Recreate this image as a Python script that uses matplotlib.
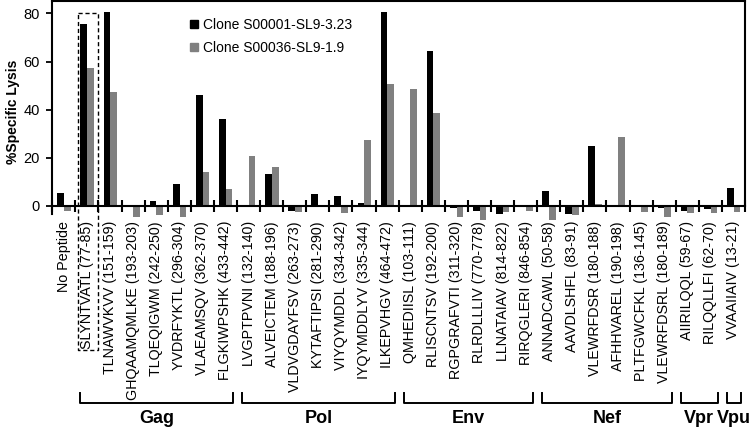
import matplotlib
matplotlib.use("Agg")
from matplotlib import pyplot as plt
from matplotlib import transforms
from matplotlib.patches import Patch
import numpy as np

plt.rcParams['font.family'] = ['Liberation Sans', 'DejaVu Sans']

# peptides, in plot order
peptides = [
    "No Peptide", "SLYNTVATL (77-85)", "TLNAWVKVV (151-159)", "GHQAAMQMLKE (193-203)",
    "TLQEQIGWM (242-250)", "YVDRFYKTL (296-304)", "VLAEAMSQV (362-370)", "FLGKIWPSHK (433-442)",
    "LVGPTPVNI (132-140)", "ALVEICTEM (188-196)", "VLDVGDAYFSV (263-273)", "KYTAFTIPSI (281-290)",
    "VIYQYMDDL (334-342)", "IYQYMDDLYV (335-344)", "ILKEPVHGV (464-472)",
    "QMHEDIISL (103-111)", "RLISCNTSV (192-200)", "RGPGRAFVTI (311-320)", "RLRDLLLIV (770-778)",
    "LLNATAIAV (814-822)", "RIRQGLERI (846-854)",
    "ANNADCAWL (50-58)", "AAVDLSHFL (83-91)", "VLEWRFDSR (180-188)", "AFHHVAREL (190-198)",
    "PLTFGWCFKL (136-145)", "VLEWRFDSRL (180-189)",
    "AIIRILQQL (59-67)", "RILQQLLFI (62-70)",
    "VVAAIIAIV (13-21)",
]

clone1 = [5.1, 75.8, 80.6, 0, 2.1, 9.2, 45.9, 36.1,
          0, 13.1, -2.0, 4.8, 4.0, 1.2, 80.6,
          -0.5, 64.3, -0.8, -2.0, -3.4, -0.5,
          6.1, -3.4, 24.7, 0, 0.5, -0.8,
          -2.0, -1.3, 7.3]
clone2 = [-2.0, 57.3, 47.5, -4.5, -3.8, -4.8, 14.2, 6.8,
          20.6, 16.2, -2.7, 0, -3.1, 27.4, 50.8,
          48.7, 38.7, -4.5, -6.0, -2.8, -2.0,
          -6.0, -3.8, 0.7, 28.5, -2.7, -4.8,
          -3.0, -3.0, -2.5]

series_names = ["Clone S00001-SL9-3.23", "Clone S00036-SL9-1.9"]

proteins = ["Gag", "Pol", "Env", "Nef", "Vpr", "Vpu"]
protein_counts = [7, 7, 6, 6, 2, 1]

fig = plt.figure(figsize=(7.5, 4.28), dpi=100)
ax = fig.add_axes([0.0697, 0.484, 0.9236, 0.5126])

x = np.arange(len(peptides))
w = 0.29
ax.bar(x - 0.135, clone1, w, color='black', zorder=2)
ax.bar(x + 0.155, clone2, w, color='#808080', zorder=2)

ax.set_xlim(-0.5, len(peptides) - 0.5)
ax.set_ylim(-6.3, 85)
ax.set_yticks([0, 20, 40, 60, 80])
ax.tick_params(axis='y', direction='out', length=4, width=1.3, labelsize=10.5, pad=5)

# x axis sits on zero, category separators as minor ticks
ax.spines['bottom'].set_position(('data', 0))
ax.set_xticks(x)
ax.set_xticklabels(peptides, rotation=90, fontsize=10.3)
ax.set_xticks(np.arange(len(peptides) + 1) - 0.5, minor=True)
ax.tick_params(axis='x', which='major', length=0, pad=11)
ax.tick_params(axis='x', which='minor', direction='inout', length=8, width=1.5)

for s in ['left', 'right', 'top', 'bottom']:
    ax.spines[s].set_linewidth(1.5)
ax.spines['left'].set_bounds(-3.5, 85)
ax.spines['right'].set_bounds(0, 85)

ax.set_ylabel("%Specific Lysis", fontsize=10, fontweight='bold')
ax.yaxis.set_label_coords(-0.047, 0.495)

handles = [Patch(color='black'), Patch(color='#808080')]
ax.legend(handles, series_names, loc='upper left', frameon=False,
          bbox_to_anchor=(190 / 750, 1 - 18 / 428), bbox_transform=fig.transFigure,
          fontsize=10, handlelength=0.55, handleheight=0.55, handletextpad=0.4,
          labelspacing=0.62, borderpad=0, borderaxespad=0)

# dashed box around the SL9 epitope
bt = transforms.blended_transform_factory(ax.transData, ax.transAxes)
y_top = (80 - ax.get_ylim()[0]) / (ax.get_ylim()[1] - ax.get_ylim()[0])
ax.plot([0.61, 1.46, 1.46, 0.61, 0.61], [y_top, y_top, -0.589, -0.589, y_top],
        transform=bt, color='black', ls=(0, (3, 2)), lw=1, clip_on=False)

# protein brackets under the labels
ft = transforms.blended_transform_factory(ax.transData, fig.transFigure)
start = 1
for name, n in zip(proteins, protein_counts):
    a = start - 0.28
    b = start + n - 1 + 0.33
    ax.plot([a, a, b, b], [0.0818, 0.0584, 0.0584, 0.0818], transform=ft,
            color='black', lw=1.4, clip_on=False, solid_joinstyle='round')
    fig.text((a + b) / 2, 0.022, name, transform=ft, ha='center', va='center',
             fontsize=13, fontweight='bold')
    start += n

fig.savefig("out.png", dpi=100)
